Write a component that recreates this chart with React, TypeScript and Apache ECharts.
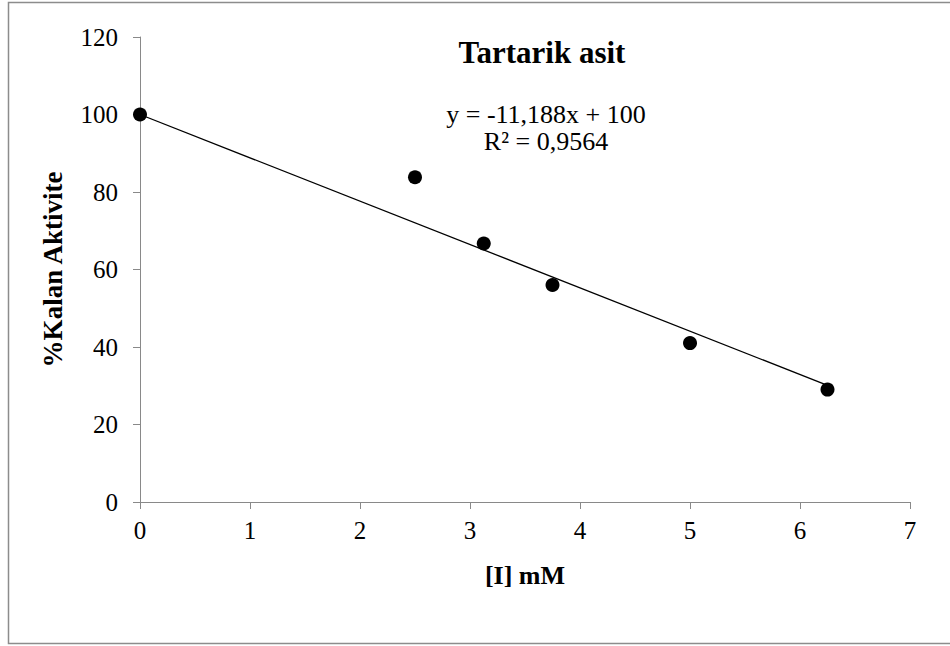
import React, { useEffect, useRef } from "react";
import * as echarts from "echarts";

const xValues = [0, 2.5, 3.125, 3.75, 5, 6.25];
const yValues = [100, 83.8, 66.7, 56, 41, 29];
const trendX = [0, 6.25];
const trendY = [100, 30.1];
const xTicks = [0, 1, 2, 3, 4, 5, 6, 7];
const yTicks = [0, 20, 40, 60, 80, 100, 120];
const titleText = "Tartarik asit";
const equationText = "y = -11,188x + 100";
const r2Text = "R² = 0,9564";
const xName = "[I] mM";
const yName = "%Kalan Aktivite";

const FONT = "'Liberation Serif', 'Times New Roman', serif";

export default function App() {
  const ref = useRef<HTMLDivElement>(null);
  useEffect(() => {
    if (!ref.current) return;
    const chart = echarts.init(ref.current, undefined, { renderer: "svg" });
    const axisGray = "#898989";
    chart.setOption({
      animation: false,
      backgroundColor: "#ffffff",
      grid: { left: 140, right: 40, top: 37, bottom: 144 },
      xAxis: {
        type: "value",
        min: xTicks[0],
        max: xTicks[xTicks.length - 1],
        interval: 1,
        name: xName,
        nameLocation: "middle",
        nameGap: 60,
        nameTextStyle: { fontFamily: FONT, fontSize: 26, fontWeight: "bold", color: "#000" },
        axisLine: { lineStyle: { color: axisGray, width: 1 } },
        axisTick: { show: true, length: 7, lineStyle: { color: axisGray } },
        axisLabel: { fontFamily: FONT, fontSize: 25, color: "#000", margin: 16 },
        splitLine: { show: false },
      },
      yAxis: {
        type: "value",
        min: yTicks[0],
        max: yTicks[yTicks.length - 1],
        interval: 20,
        name: yName,
        nameLocation: "middle",
        nameGap: 74,
        nameRotate: 90,
        nameTextStyle: { fontFamily: FONT, fontSize: 27, fontWeight: "bold", color: "#000" },
        axisLine: { show: true, lineStyle: { color: axisGray, width: 1 } },
        axisTick: { show: true, length: 7, lineStyle: { color: axisGray } },
        axisLabel: { fontFamily: FONT, fontSize: 25, color: "#000", margin: 22 },
        splitLine: { show: false },
      },
      graphic: [
        {
          type: "rect",
          shape: { x: 8.5, y: 2.5, width: 1000, height: 641 },
          style: { fill: "none", stroke: "#8c8c8c", lineWidth: 1.5 },
          z: -10,
          silent: true,
        },
        {
          type: "text",
          x: 542,
          y: 52,
          style: {
            text: titleText,
            fontFamily: FONT,
            fontSize: 31,
            fontWeight: "bold",
            fill: "#000",
            align: "center",
            verticalAlign: "middle",
          },
        },
        {
          type: "text",
          x: 546,
          y: 114,
          style: {
            text: equationText,
            fontFamily: FONT,
            fontSize: 26,
            fill: "#000",
            align: "center",
            verticalAlign: "middle",
          },
        },
        {
          type: "text",
          x: 546,
          y: 141,
          style: {
            text: r2Text,
            fontFamily: FONT,
            fontSize: 26,
            fill: "#000",
            align: "center",
            verticalAlign: "middle",
          },
        },
      ],
      series: [
        {
          type: "line",
          data: trendX.map((x, i) => [x, trendY[i]]),
          showSymbol: false,
          symbol: "none",
          lineStyle: { color: "#000", width: 1.3 },
          z: 2,
          silent: true,
        },
        {
          type: "scatter",
          data: xValues.map((x, i) => [x, yValues[i]]),
          symbol: "circle",
          symbolSize: 14,
          itemStyle: { color: "#000", opacity: 1 },
          z: 3,
        },
      ],
    });
    return () => chart.dispose();
  }, []);
  return (
    <div
      ref={ref}
      style={{ position: "absolute", left: 0, top: 0, width: 950, height: 646 }}
    />
  );
}
